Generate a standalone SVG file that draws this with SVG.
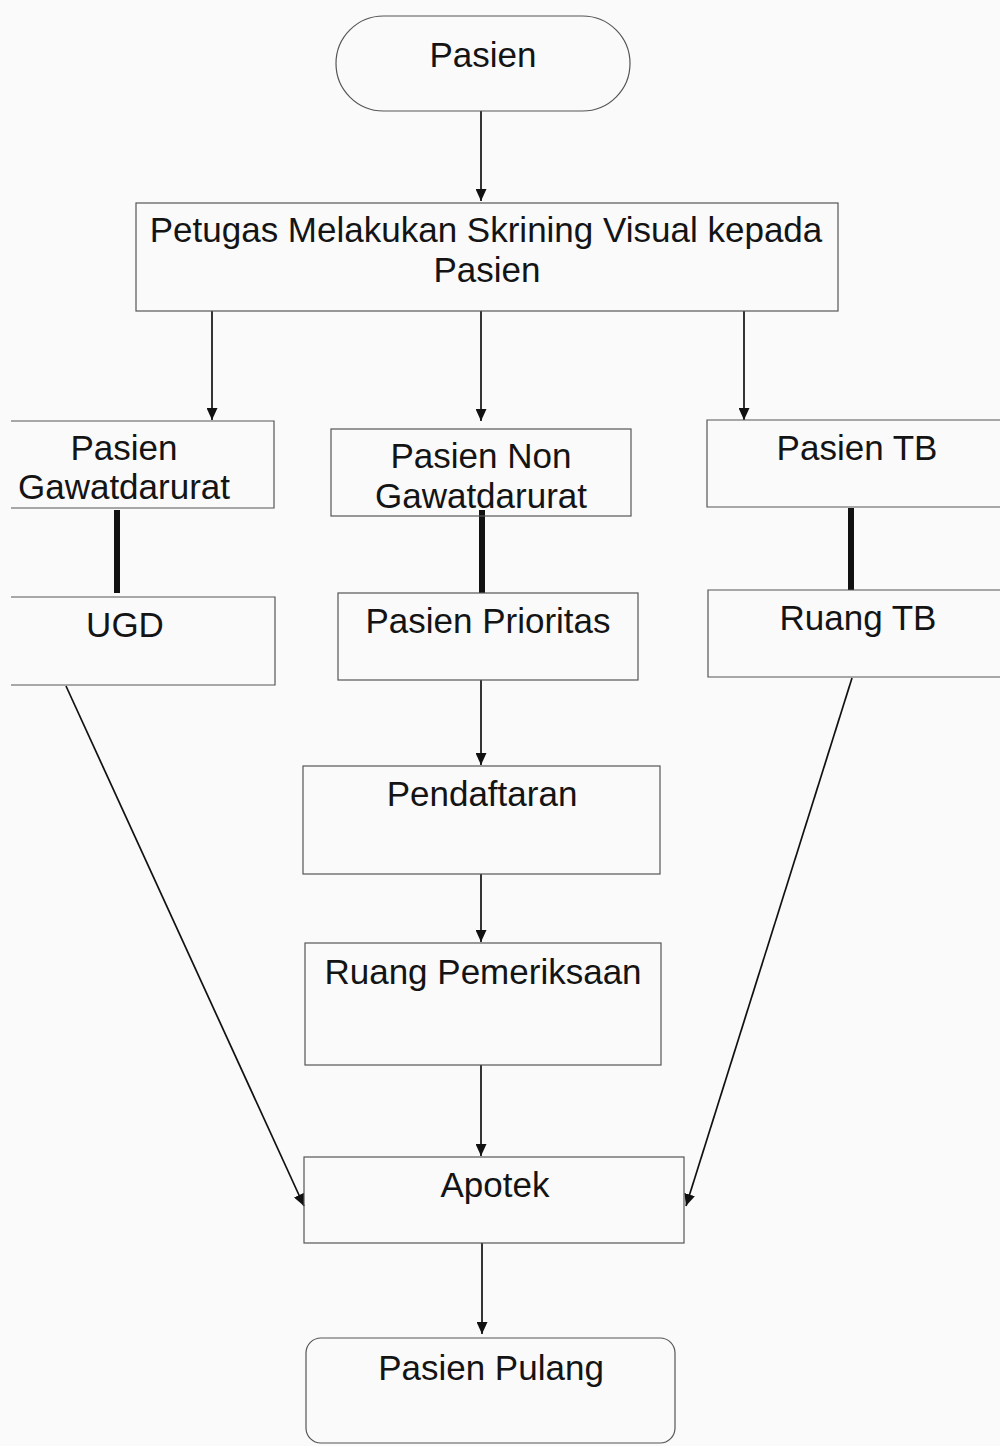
<svg xmlns="http://www.w3.org/2000/svg" width="1000" height="1446" viewBox="0 0 1000 1446">
<defs>
<marker id="ah" markerWidth="12" markerHeight="11" refX="12" refY="5.5" orient="auto" markerUnits="userSpaceOnUse">
<path d="M0,0 L12,5.5 L0,11 Z" fill="#111"/>
</marker>
<style>
.box{fill:none;stroke:#555;stroke-width:1.2}
.t{font-family:"Liberation Sans",Arial,sans-serif;font-size:35px;fill:#141414;text-anchor:middle}
.ar{fill:none;stroke:#111;stroke-width:1.7;marker-end:url(#ah)}
.thick{fill:none;stroke:#111;stroke-width:6}
</style>
</defs>
<rect x="0" y="0" width="1000" height="1446" fill="#fafafa"/>

<g id="connectors">
<line class="ar" x1="481" y1="111" x2="481" y2="201"/>
<line class="ar" x1="212" y1="311" x2="212" y2="420"/>
<line class="ar" x1="481" y1="311" x2="481" y2="421"/>
<line class="ar" x1="744" y1="311" x2="744" y2="420"/>
<line class="thick" x1="117" y1="510" x2="117" y2="593"/>
<line class="thick" x1="482" y1="510" x2="482" y2="593"/>
<line class="thick" x1="851" y1="508" x2="851" y2="590"/>
<line class="ar" x1="481" y1="680" x2="481" y2="765"/>
<line class="ar" x1="481" y1="874" x2="481" y2="942"/>
<line class="ar" x1="481" y1="1065" x2="481" y2="1156"/>
<line class="ar" x1="66" y1="686" x2="304" y2="1206"/>
<line class="ar" x1="852" y1="678" x2="686" y2="1206"/>
<line class="ar" x1="482" y1="1243" x2="482" y2="1334"/>
</g>

<g id="pasien">
<rect class="box" x="336" y="16" width="294" height="95" rx="47.5" ry="47.5"/>
<text class="t" x="483" y="67">Pasien</text>
</g>

<g id="skrining">
<rect class="box" x="136" y="203" width="702" height="108"/>
<text class="t" x="486" y="242">Petugas Melakukan Skrining Visual kepada</text>
<text class="t" x="487" y="282">Pasien</text>
</g>

<g id="gawatdarurat">
<path class="box" d="M11,421 H274 V508 H11"/>
<text class="t" x="124" y="460">Pasien</text>
<text class="t" x="124" y="499">Gawatdarurat</text>
</g>

<g id="nongawat">
<rect class="box" x="331" y="429" width="300" height="87"/>
<text class="t" x="481" y="468">Pasien Non</text>
<text class="t" x="481" y="508">Gawatdarurat</text>
</g>

<g id="pasientb">
<path class="box" d="M1000,420 H707 V507 H1000"/>
<text class="t" x="857" y="460">Pasien TB</text>
</g>

<g id="ugd">
<path class="box" d="M11,597 H275 V685 H11"/>
<text class="t" x="125" y="637">UGD</text>
</g>

<g id="prioritas">
<rect class="box" x="338" y="593" width="300" height="87"/>
<text class="t" x="488" y="633">Pasien Prioritas</text>
</g>

<g id="ruangtb">
<path class="box" d="M1000,590 H708 V677 H1000"/>
<text class="t" x="858" y="630">Ruang TB</text>
</g>

<g id="pendaftaran">
<rect class="box" x="303" y="766" width="357" height="108"/>
<text class="t" x="482" y="806">Pendaftaran</text>
</g>

<g id="pemeriksaan">
<rect class="box" x="305" y="943" width="356" height="122"/>
<text class="t" x="483" y="984">Ruang Pemeriksaan</text>
</g>

<g id="apotek">
<rect class="box" x="304" y="1157" width="380" height="86"/>
<text class="t" x="495" y="1197">Apotek</text>
</g>

<g id="pulang">
<rect class="box" x="306" y="1338" width="369" height="105" rx="15" ry="15"/>
<text class="t" x="491" y="1380">Pasien Pulang</text>
</g>
</svg>
